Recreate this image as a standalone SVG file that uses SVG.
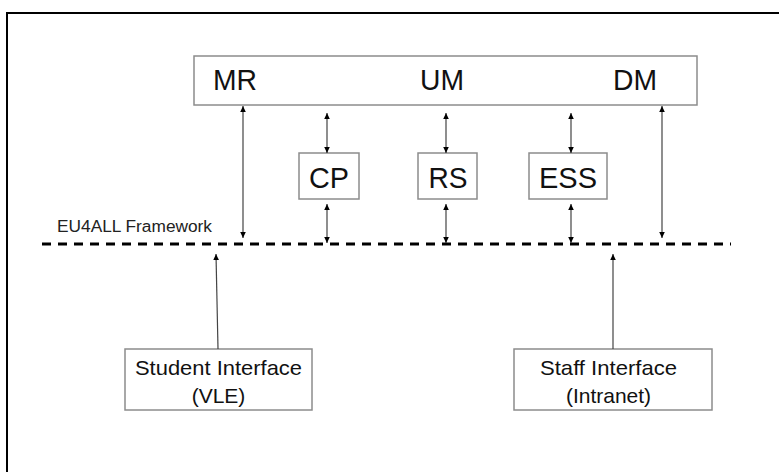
<svg xmlns="http://www.w3.org/2000/svg" width="779" height="472" viewBox="0 0 779 472">
  <style>
    .frame { fill: none; stroke: #000; stroke-width: 2; }
    .box { fill: #fff; stroke: #8c8c8c; stroke-width: 1.5; }
    .big { font-family: "Liberation Sans", Arial, sans-serif; font-size: 30px; fill: #111; }
    .mid { font-family: "Liberation Sans", Arial, sans-serif; font-size: 21px; fill: #111; }
    .small { font-family: "Liberation Sans", Arial, sans-serif; font-size: 16px; fill: #222; }
    .link { stroke: #444; stroke-width: 1.2; fill: none; }
    .bus { stroke: #000; stroke-width: 3; stroke-dasharray: 9 7; fill: none; }
  </style>
  <defs>
    <marker id="head" markerUnits="userSpaceOnUse" markerWidth="8" markerHeight="8" refX="7" refY="4" orient="auto-start-reverse">
      <path d="M1,1.2 L7,4 L1,6.8 Z" fill="#000"/>
    </marker>
  </defs>

  <rect width="779" height="472" fill="#fff"/>
  <!-- outer frame -->
  <rect class="frame" x="7" y="13" width="790" height="470"/>

  <!-- top layer -->
  <g id="top-layer">
    <rect class="box" x="194" y="56" width="503" height="49"/>
    <text class="big" x="213" y="90" textLength="44" lengthAdjust="spacingAndGlyphs">MR</text>
    <text class="big" x="420" y="90" textLength="44" lengthAdjust="spacingAndGlyphs">UM</text>
    <text class="big" x="613" y="90" textLength="44" lengthAdjust="spacingAndGlyphs">DM</text>
  </g>

  <g id="cp">
    <rect class="box" x="299" y="153" width="60" height="46"/>
    <text class="big" x="329" y="188" text-anchor="middle" textLength="40" lengthAdjust="spacingAndGlyphs">CP</text>
  </g>
  <g id="rs">
    <rect class="box" x="418" y="153" width="59" height="46"/>
    <text class="big" x="448" y="188" text-anchor="middle" textLength="39" lengthAdjust="spacingAndGlyphs">RS</text>
  </g>
  <g id="ess">
    <rect class="box" x="529" y="153" width="78" height="46"/>
    <text class="big" x="568" y="188" text-anchor="middle" textLength="58" lengthAdjust="spacingAndGlyphs">ESS</text>
  </g>

  <g id="framework">
    <line class="bus" x1="42" y1="244" x2="731" y2="244"/>
    <text class="small" x="57" y="232" textLength="155" lengthAdjust="spacingAndGlyphs">EU4ALL Framework</text>
  </g>

  <g id="student">
    <rect class="box" x="125" y="349" width="187" height="61"/>
    <text class="mid" x="218.5" y="375" text-anchor="middle" textLength="167" lengthAdjust="spacingAndGlyphs">Student Interface</text>
    <text class="mid" x="218.5" y="403" text-anchor="middle">(VLE)</text>
  </g>
  <g id="staff">
    <rect class="box" x="514" y="349" width="198" height="61"/>
    <text class="mid" x="608.5" y="375" text-anchor="middle" textLength="137" lengthAdjust="spacingAndGlyphs">Staff Interface</text>
    <text class="mid" x="608.5" y="403" text-anchor="middle">(Intranet)</text>
  </g>

  <!-- connectors -->
  <g id="connectors">
    <line class="link" x1="243" y1="106" x2="243" y2="238" marker-start="url(#head)" marker-end="url(#head)"/>
    <line class="link" x1="662" y1="106" x2="662" y2="238" marker-start="url(#head)" marker-end="url(#head)"/>

    <line class="link" x1="327" y1="113" x2="327" y2="153" marker-start="url(#head)" marker-end="url(#head)"/>
    <line class="link" x1="327" y1="204" x2="327" y2="243" marker-start="url(#head)" marker-end="url(#head)"/>
    <line class="link" x1="446" y1="113" x2="446" y2="153" marker-start="url(#head)" marker-end="url(#head)"/>
    <line class="link" x1="446" y1="204" x2="446" y2="243" marker-start="url(#head)" marker-end="url(#head)"/>
    <line class="link" x1="571" y1="113" x2="571" y2="153" marker-start="url(#head)" marker-end="url(#head)"/>
    <line class="link" x1="571" y1="204" x2="571" y2="243" marker-start="url(#head)" marker-end="url(#head)"/>

    <line class="link" x1="218" y1="349" x2="216" y2="254" marker-end="url(#head)"/>
    <line class="link" x1="613" y1="349" x2="613" y2="254" marker-end="url(#head)"/>
  </g>
</svg>
